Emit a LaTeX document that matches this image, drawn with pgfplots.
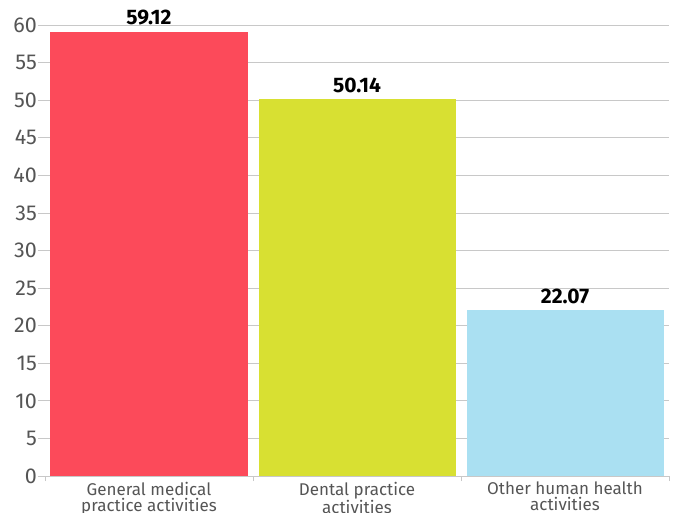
\documentclass[border=0pt]{standalone}
\usepackage{pgfplots}
\pgfplotsset{compat=1.18}
\usepackage{fontspec}
\setmainfont{Fira Sans}
\definecolor{cred}{RGB}{252,74,90}
\definecolor{cyel}{RGB}{216,224,50}
\definecolor{cblue}{RGB}{170,224,242}
\definecolor{ctext}{RGB}{85,85,85}
\definecolor{cgrid}{RGB}{200,200,200}
\begin{document}
\begin{tikzpicture}
\path[use as bounding box] (-45bp,-37bp) rectangle (631bp,476bp);
\begin{axis}[
  at={(0,0)}, anchor=south west,
  scale only axis,
  width=624bp, height=451bp,
  xmin=-0.5, xmax=2.5, ymin=0, ymax=60,
  axis lines*=left,
  y axis line style={draw=none},
  x axis line style={draw=cgrid, line width=1pt},
  ytick={0,5,...,60},
  xtick={0,1,2},
  xticklabels={General medical\\practice activities, Dental practice\\activities, Other human health\\activities},
  minor xtick={-0.5,0.5,1.5,2.5},
  tick align=outside,
  major tick length=7bp,
  minor tick length=5bp,
  xtick style={draw=none},
  minor x tick style={draw=cgrid, line width=0.8pt},
  ytick style={draw=cgrid, line width=0.8pt},
  ymajorgrids,
  grid style={draw=cgrid, line width=0.8pt},
  /pgf/number format/assume math mode=true,
  yticklabel style={font=\fontsize{21.5bp}{21.5bp}\selectfont, text=ctext, inner sep=1bp},
  xticklabel style={font=\fontsize{17bp}{16bp}\selectfont, text=ctext, align=center, inner sep=0pt, yshift=1bp},
  ybar, bar width=197bp, bar shift=0pt,
  nodes near coords,
  nodes near coords style={font=\bfseries\fontsize{21bp}{21bp}\selectfont, text=black, inner sep=0pt, anchor=south, yshift=6.5bp,
    /pgf/number format/fixed, /pgf/number format/precision=2, /pgf/number format/fixed zerofill},
  clip=false,
]
\addplot[fill=cred, draw=none] coordinates {(0,59.12)};
\addplot[fill=cyel, draw=none] coordinates {(1,50.14)};
\addplot[fill=cblue, draw=none] coordinates {(2,22.07)};
\end{axis}
\end{tikzpicture}
\end{document}
